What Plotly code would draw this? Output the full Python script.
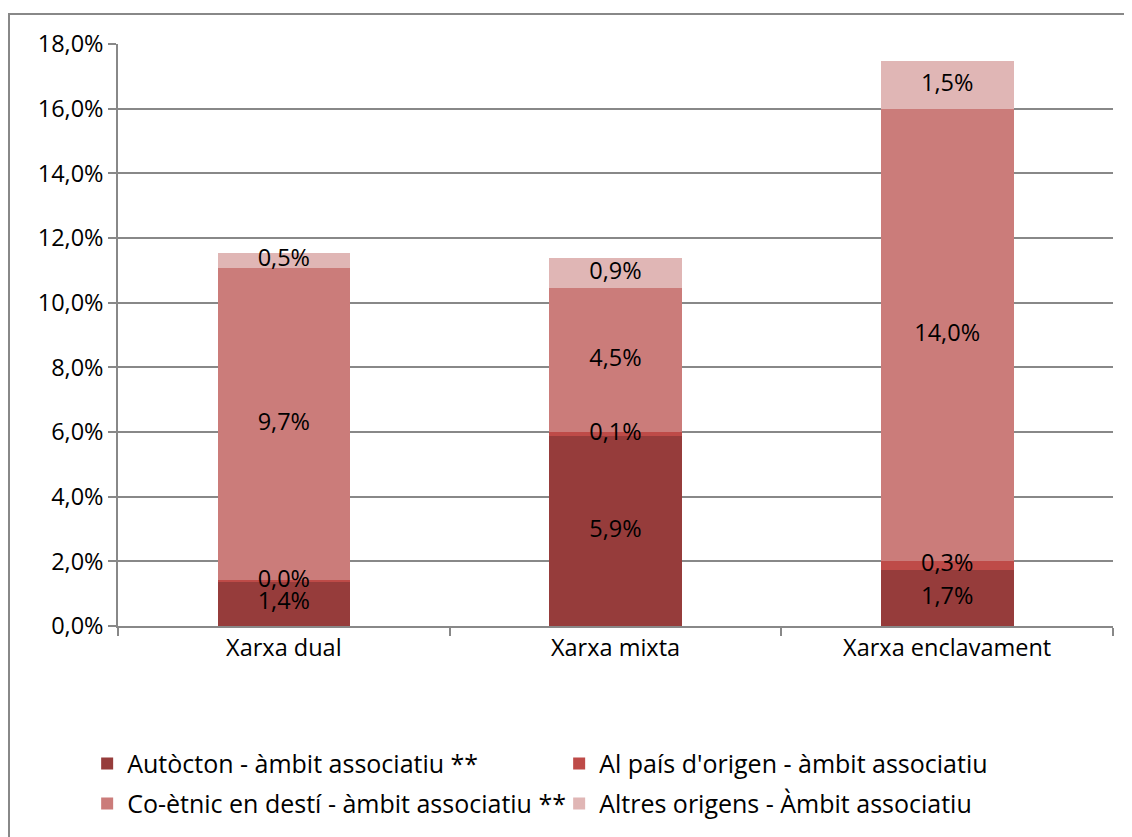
import plotly.graph_objects as go

categories = ["Xarxa dual", "Xarxa mixta", "Xarxa enclavament"]
series_names = [
    "Autòcton - àmbit associatiu **",
    "Al país d'origen - àmbit associatiu",
    "Co-ètnic en destí - àmbit associatiu **",
    "Altres origens - Àmbit associatiu",
]
autocton = [1.39, 5.88, 1.73]
al_pais = [0.02, 0.12, 0.28]
coetnic = [9.66, 4.45, 13.98]
altres = [0.47, 0.93, 1.49]
colors = ["#963C3B", "#BE4B48", "#CB7C7A", "#E0B6B5"]
legend_rows = ["legend", "legend", "legend2", "legend2"]
y_ticks = [0, 2, 4, 6, 8, 10, 12, 14, 16, 18]

FONT = "Open Sans"
FS = 23.5
LFS = 25
GRAY = "#888888"

W, H = 1124, 829
L, R, T, B = 110, 19, 36, 211
PW, PH = W - L - R, H - T - B

series = [autocton, al_pais, coetnic, altres]

fig = go.Figure()
for name, vals, col, lg in zip(series_names, series, colors, legend_rows):
    fig.add_trace(go.Bar(
        x=categories,
        y=[v / 100 for v in vals],
        name=name,
        legend=lg,
        marker=dict(color=col, line=dict(width=0)),
        width=0.4,
    ))

# data labels drawn on top of all bars, centred in each stacked segment
base = [0.0] * len(categories)
for vals in series:
    mids = [(b + v / 2) / 100 for b, v in zip(base, vals)]
    fig.add_trace(go.Scatter(
        x=categories,
        y=mids,
        mode="text",
        text=[f"{v:.1f}%".replace(".", ",") for v in vals],
        textposition="middle center",
        textfont=dict(family=FONT, size=FS, color="black"),
        showlegend=False,
        hoverinfo="skip",
        cliponaxis=False,
    ))
    base = [b + v for b, v in zip(base, vals)]

legend_common = dict(
    orientation="h",
    xanchor="left", yanchor="top",
    entrywidth=427, entrywidthmode="pixels",
    font=dict(family=FONT, size=LFS, color="black"),
    traceorder="normal",
    itemwidth=30,
    bgcolor="rgba(0,0,0,0)",
)

fig.update_layout(
    barmode="stack",
    width=W,
    height=H,
    separators=",.",
    paper_bgcolor="white",
    plot_bgcolor="white",
    margin=dict(l=L, r=R, t=T, b=B, autoexpand=False),
    font=dict(family=FONT, size=FS, color="black"),
    showlegend=True,
    legend=dict(x=-0.031, y=-0.197, **legend_common),
    legend2=dict(x=-0.031, y=-0.266, **legend_common),
    xaxis=dict(
        showline=True, linecolor=GRAY, linewidth=1.5,
        ticks="outside", tickson="boundaries", ticklen=8, tickcolor=GRAY, tickwidth=1.5,
        showgrid=False,
        tickfont=dict(family=FONT, size=FS, color="black"),
    ),
    yaxis=dict(
        range=[0, 0.18],
        tickvals=[t / 100 for t in y_ticks],
        tickformat=".1%",
        showline=True, linecolor=GRAY, linewidth=1.5,
        ticks="outside", ticklen=8, tickcolor=GRAY, tickwidth=1.5,
        showgrid=True, gridcolor=GRAY, gridwidth=1.5,
        zeroline=False,
        tickfont=dict(family=FONT, size=FS, color="black"),
    ),
    shapes=[dict(
        type="rect", xref="paper", yref="paper",
        x0=(1 - L) / PW, x1=(W + 20 - L) / PW,
        y0=-(B + 20) / PH, y1=(H - B - 6) / PH,
        line=dict(color=GRAY, width=2), fillcolor="rgba(0,0,0,0)", layer="below",
    )],
)

fig.write_html("out.html")
